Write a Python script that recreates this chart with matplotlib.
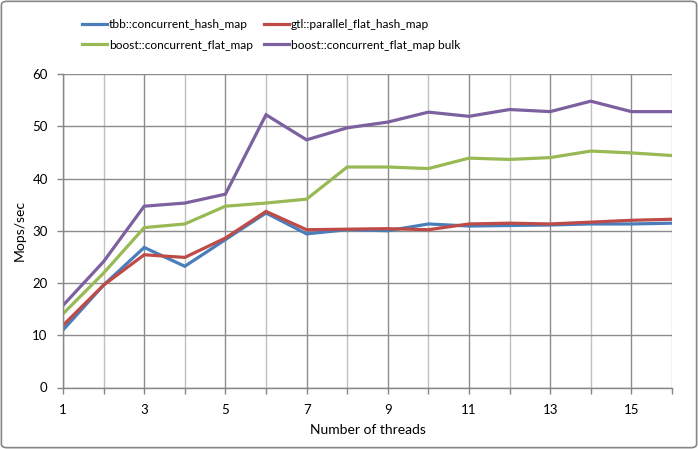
import matplotlib.pyplot as plt
from matplotlib.patches import FancyBboxPatch
from matplotlib.ticker import MultipleLocator, FixedLocator

threads = list(range(1, 17))
tbb = [11.0, 19.6, 26.8, 23.2, 28.3, 33.4, 29.4, 30.2, 30.0, 31.3, 30.9, 31.0, 31.1, 31.3, 31.3, 31.45]
gtl = [11.9, 19.6, 25.4, 24.9, 28.6, 33.7, 30.2, 30.3, 30.4, 30.2, 31.3, 31.45, 31.3, 31.65, 32.0, 32.2]
boost = [14.1, 21.9, 30.6, 31.3, 34.7, 35.3, 36.05, 42.2, 42.2, 41.9, 43.9, 43.65, 44.0, 45.25, 44.9, 44.4]
boost_bulk = [15.7, 24.1, 34.7, 35.3, 37.0, 52.2, 47.4, 49.7, 50.8, 52.7, 51.9, 53.2, 52.8, 54.8, 52.8, 52.8]
names = ["tbb::concurrent_hash_map", "gtl::parallel_flat_hash_map",
         "boost::concurrent_flat_map", "boost::concurrent_flat_map bulk"]
colors = ["#4A7EBB", "#BE4B48", "#98B954", "#7D60A0"]
major_x = [1, 3, 5, 7, 9, 11, 13, 15]
minor_x = [2, 4, 6, 8, 10, 12, 14, 16]

plt.rcParams['font.family'] = ['Lato', 'DejaVu Sans']

fig = plt.figure(figsize=(6.98, 4.49), dpi=100)
ax = fig.add_axes([63 / 698, 1 - 387.5 / 449, 609 / 698, 313.5 / 449])

border = FancyBboxPatch((0.002, 0.003), 0.996, 0.994, boxstyle="round,pad=0,rounding_size=0.008",
                        transform=fig.transFigure, fill=False, edgecolor="#868686", linewidth=1.2)
fig.patches.append(border)

lines = []
for ys, c in zip([tbb, gtl, boost, boost_bulk], colors):
    ln, = ax.plot(threads, ys, color=c, linewidth=2.3, solid_joinstyle='miter')
    lines.append(ln)

ax.set_xlim(1, 16)
ax.set_ylim(0, 60)
ax.xaxis.set_major_locator(FixedLocator(major_x))
ax.xaxis.set_minor_locator(FixedLocator(minor_x))
ax.yaxis.set_major_locator(MultipleLocator(10))
ax.grid(True, which='major', axis='x', color='#8C8C8C', linewidth=1)
ax.grid(True, which='minor', axis='x', color='#C0C0C0', linewidth=1)
ax.grid(True, which='major', axis='y', color='#8C8C8C', linewidth=1)
ax.set_axisbelow(True)

for s in ['top', 'right']:
    ax.spines[s].set_visible(False)
for s in ['left', 'bottom']:
    ax.spines[s].set_color('#868686')
    ax.spines[s].set_linewidth(1)

ax.tick_params(axis='both', which='both', color='#868686', length=4, width=1, labelsize=9.5)
ax.tick_params(axis='x', pad=8)
ax.tick_params(axis='y', pad=7)

ax.set_xlabel("Number of threads", fontsize=10, labelpad=6)
ax.set_ylabel("Mops/sec", fontsize=10, labelpad=5)

# legend: two columns placed separately so they line up like the original
leg_kw = dict(loc='upper left', frameon=False, fontsize=8.6, handlelength=2.1,
              handletextpad=0.15, labelspacing=0.8, borderpad=0, borderaxespad=0)
leg1 = fig.legend([lines[0], lines[2]], [names[0], names[2]],
                  bbox_to_anchor=(82 / 698, 1 - 19 / 449), **leg_kw)
leg2 = fig.legend([lines[1], lines[3]], [names[1], names[3]],
                  bbox_to_anchor=(264 / 698, 1 - 19 / 449), **leg_kw)

fig.savefig("out.png", dpi=100)
